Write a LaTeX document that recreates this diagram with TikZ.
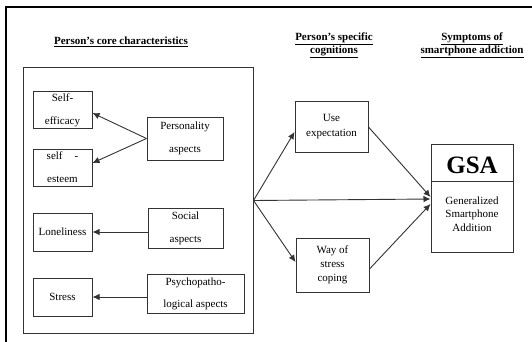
\documentclass[tikz,border=0pt]{standalone}
\usepackage{fontspec}
\setmainfont{Liberation Serif}
\usetikzlibrary{arrows.meta,calc}
\begin{document}
\begin{tikzpicture}[x=1pt,y=-1pt,
  box/.style={draw=black!80,line width=1pt,rectangle,inner sep=0pt,align=center,
    font=\fontsize{11}{23}\selectfont},
  head/.style={font=\fontsize{11}{13}\selectfont\bfseries,align=center,inner sep=0pt},
  arr/.style={draw=black!80,line width=0.9pt,-{Latex[length=7pt,width=6.5pt]}},
  ln/.style={draw=black!80,line width=1pt}]
\useasboundingbox (0,0) rectangle (532,342);
% outer frame (top and left visible)
\draw[line width=2pt] (6,342) -- (6,7) -- (532,7);
% headings
\node[head] (h1) at (121,42) {\underline{Person’s core characteristics}};
\node[head] (h2) at (334,45.5) {\underline{Person{\char39}s specific}\\\underline{cognitions}};
\node[head] (h3) at (472,45.5) {\underline{Symptoms of}\\\underline{smartphone addiction}};
% inner box
\node[box,minimum width=230pt,minimum height=265pt] (core) at (138,200.5) {};
% left column
\node[box,minimum width=59pt,minimum height=36pt] (seff) at (62.5,110) {Self-\\efficacy};
\node[box,minimum width=59pt,minimum height=37pt] (sest) at (62.5,167.5) {self\hspace{12pt}-\\esteem};
\node[box,minimum width=59pt,minimum height=38pt] (lone) at (62.5,232) {Loneliness};
\node[box,minimum width=59pt,minimum height=38pt] (stress) at (62.5,297) {Stress};
% right column of inner box
\node[box,minimum width=76pt,minimum height=43pt] (pers) at (185,138.5) {Personality\\aspects};
\node[box,minimum width=75pt,minimum height=40pt] (soc) at (185.5,228) {Social\\aspects};
\node[box,minimum width=97pt,minimum height=39pt,font=\fontsize{11}{22}\selectfont] (psy) at (195.5,293.5) {Psychopatho-\\logical aspects};
% cognitions
\node[box,minimum width=73pt,minimum height=50pt,font=\fontsize{11}{15}\selectfont] (use) at (331.5,127) {Use\\expectation};
\node[box,minimum width=73pt,minimum height=54pt,font=\fontsize{11}{14}\selectfont] (way) at (332.5,265) {Way of\\stress\\coping};
% GSA
\node[box,minimum width=82pt,minimum height=108pt] (gsa) at (472,198) {};
\draw[ln] (gsa.west |- 0,181) -- (gsa.east |- 0,181);
\node[font=\fontsize{25}{25}\selectfont\bfseries,inner sep=0pt] (gsat) at (472,165) {GSA};
\node[font=\fontsize{11}{13.5}\selectfont,align=center,inner sep=0pt] (gsab) at (472,214) {Generalized\\Smartphone\\Addition};
% arrows inside core box
\draw[arr] (pers.west) -- ([yshift=-3pt]seff.east);
\draw[arr] (pers.west) -- ([yshift=4.5pt]sest.east);
\draw[arr] (soc.west |- lone) -- (lone.east);
\draw[arr] (psy.west |- stress) -- (stress.east);
% branch
\coordinate (br) at (core.east);
\draw[arr] (br) -- ([yshift=-5pt]use.west);
\draw[arr] (br) -- ([yshift=3pt]way.west);
\draw[arr] (br) -- ([yshift=-1pt]gsa.west);
\draw[arr] (use.east) -- ([yshift=1pt]gsa.west);
\draw[arr] ([yshift=-4pt]way.east) -- ([yshift=-6pt]gsa.west);
\end{tikzpicture}
\end{document}
